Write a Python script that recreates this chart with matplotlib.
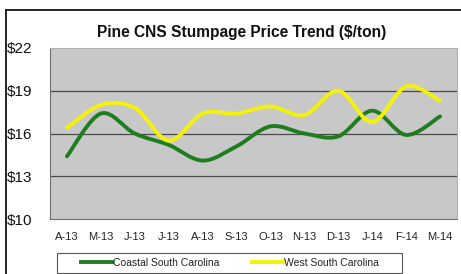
import numpy as np
import matplotlib
matplotlib.use("Agg")
import matplotlib.pyplot as plt
from matplotlib.path import Path
from matplotlib.patches import PathPatch, Rectangle
from matplotlib.lines import Line2D

months = ["A-13", "M-13", "J-13", "J-13", "A-13", "S-13", "O-13", "N-13", "D-13", "J-14", "F-14", "M-14"]
coastal = [14.4, 17.4, 16.0, 15.2, 14.1, 15.1, 16.5, 16.0, 15.8, 17.6, 15.9, 17.2]
west = [16.4, 18.0, 17.8, 15.5, 17.4, 17.4, 17.9, 17.3, 19.0, 16.8, 19.3, 18.3]
yticks = [10, 13, 16, 19, 22]
ytick_labels = ["$10", "$13", "$16", "$19", "$22"]

plt.rcParams['font.family'] = ['Liberation Sans', 'DejaVu Sans']

fig = plt.figure(figsize=(4.61, 2.74), dpi=100)
W, H = 461, 274
ax = fig.add_axes([50 / W, 1 - 219 / H, (457 - 50) / W, (219 - 48) / H])

ax.set_facecolor('#c8c8c8')
ax.set_xlim(-0.5, len(months) - 0.5)
ax.set_ylim(10, 22)
for y in [13, 16, 19]:
    ax.axhline(y, color='#4a4a4a', lw=0.9, zorder=1)


def smooth_path(xs, ys, t=1 / 6):
    xs = np.asarray(xs, float)
    ys = np.asarray(ys, float)
    verts = [(xs[0], ys[0])]
    codes = [Path.MOVETO]
    n = len(xs)
    for i in range(n - 1):
        p0 = (xs[max(i - 1, 0)], ys[max(i - 1, 0)])
        p1 = (xs[i], ys[i])
        p2 = (xs[i + 1], ys[i + 1])
        p3 = (xs[min(i + 2, n - 1)], ys[min(i + 2, n - 1)])
        c1 = (p1[0] + (p2[0] - p0[0]) * t, p1[1] + (p2[1] - p0[1]) * t)
        c2 = (p2[0] - (p3[0] - p1[0]) * t, p2[1] - (p3[1] - p1[1]) * t)
        verts += [c1, c2, p2]
        codes += [Path.CURVE4] * 3
    return Path(verts, codes)


x = np.arange(len(months))
green = '#1e7d1e'
yellow = '#f2f20a'
ax.add_patch(PathPatch(smooth_path(x, coastal), fill=False, edgecolor=green, lw=2.8, zorder=3, capstyle='round'))
ax.add_patch(PathPatch(smooth_path(x, west), fill=False, edgecolor=yellow, lw=2.8, zorder=3, capstyle='round'))

ax.set_xticks(x)
ax.set_xticklabels(months, fontsize=8, color='#222222')
ax.set_yticks(yticks)
ax.set_yticklabels(ytick_labels, fontsize=11, color='#111111')
ax.tick_params(axis='x', length=0, pad=9)
ax.tick_params(axis='y', length=0, pad=13)
for s in ['top', 'right']:
    ax.spines[s].set_color('#b0b0b0')
    ax.spines[s].set_linewidth(0.8)
for s in ['left', 'bottom']:
    ax.spines[s].set_color('#707070')
    ax.spines[s].set_linewidth(0.8)

fig.text(242 / W, 1 - 33 / H, "Pine CNS Stumpage Price Trend ($/ton)", ha='center', va='center',
         fontsize=11.2, fontweight='bold', color='#111111')

# legend box
fig.add_artist(Rectangle((57 / W, 1 - 273 / H), (402 - 57) / W, 20 / H, transform=fig.transFigure,
                         facecolor='white', edgecolor='#555555', lw=0.8, zorder=1))
handles = [Line2D([], [], color=green, lw=2.8), Line2D([], [], color=yellow, lw=2.8)]
leg = fig.legend(handles, ["Coastal South Carolina", "West South Carolina"], ncol=2,
                 loc='center', bbox_to_anchor=(230 / W, 1 - 263 / H), fontsize=7.5,
                 frameon=False, handlelength=2.9, handletextpad=0.1, columnspacing=3.2,
                 borderpad=0.2)
for t in leg.get_texts():
    t.set_color('#222222')
leg.set_zorder(2)

# outer border (top and left visible)
fig.add_artist(Line2D([5.5 / W, 5.5 / W], [0, 1 - 9.5 / H], transform=fig.transFigure, color='black', lw=1.2))
fig.add_artist(Line2D([5.5 / W, 1], [1 - 9.5 / H, 1 - 9.5 / H], transform=fig.transFigure, color='black', lw=1.2))

fig.savefig('out.png', dpi=100)
